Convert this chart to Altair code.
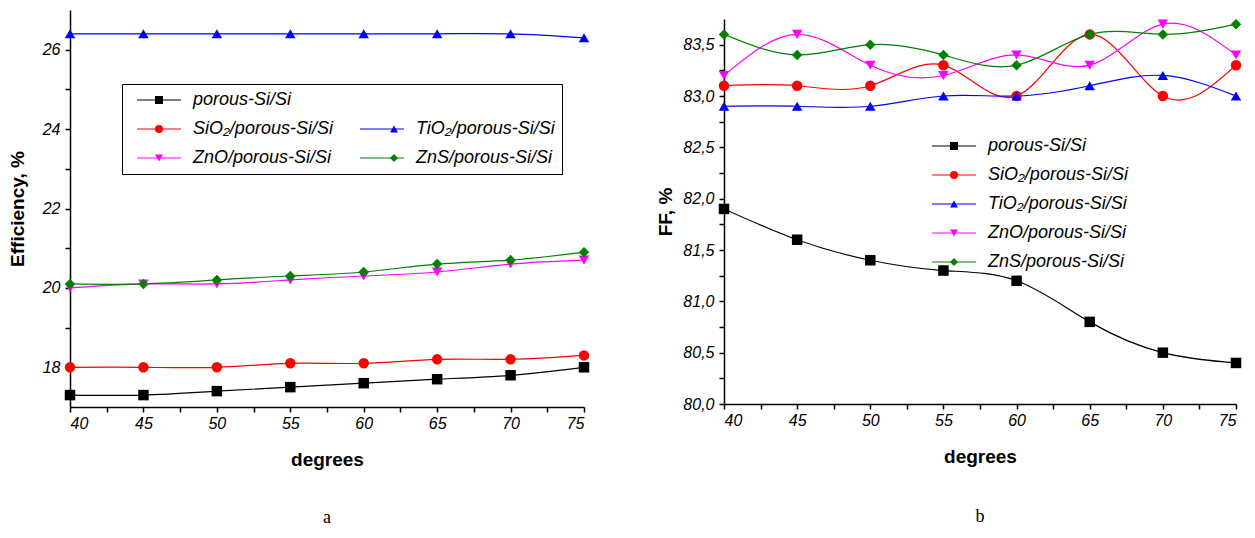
import altair as alt
import pandas as pd

# ---------------- data ----------------
degrees = [40, 45, 50, 55, 60, 65, 70, 75]
series = ["porous-Si/Si", "SiO₂/porous-Si/Si", "TiO₂/porous-Si/Si",
          "ZnO/porous-Si/Si", "ZnS/porous-Si/Si"]
colors = ["#000000", "#ff0000", "#0000ff", "#ff00ff", "#008000"]
shapes = ["square", "circle", "triangle-up", "triangle-down", "diamond"]

eff_porous = [17.3, 17.3, 17.4, 17.5, 17.6, 17.7, 17.8, 18.0]
eff_sio2 = [18.0, 18.0, 18.0, 18.1, 18.1, 18.2, 18.2, 18.3]
eff_tio2 = [26.4, 26.4, 26.4, 26.4, 26.4, 26.4, 26.4, 26.3]
eff_zno = [20.0, 20.1, 20.1, 20.2, 20.3, 20.4, 20.6, 20.7]
eff_zns = [20.1, 20.1, 20.2, 20.3, 20.4, 20.6, 20.7, 20.9]

ff_porous = [81.9, 81.6, 81.4, 81.3, 81.2, 80.8, 80.5, 80.4]
ff_sio2 = [83.1, 83.1, 83.1, 83.3, 83.0, 83.6, 83.0, 83.3]
ff_tio2 = [82.9, 82.9, 82.9, 83.0, 83.0, 83.1, 83.2, 83.0]
ff_zno = [83.2, 83.6, 83.3, 83.2, 83.4, 83.3, 83.7, 83.4]
ff_zns = [83.6, 83.4, 83.5, 83.4, 83.3, 83.6, 83.6, 83.7]

# major + minor tick values (minor ones get no label)
x_ticks = [40, 42.5, 45, 47.5, 50, 52.5, 55, 57.5, 60, 62.5, 65, 67.5, 70,
           72.5, 75]
eff_ticks = [18, 19, 20, 21, 22, 23, 24, 25, 26]
ff_ticks = [80.0, 80.25, 80.5, 80.75, 81.0, 81.25, 81.5, 81.75, 82.0, 82.25,
            82.5, 82.75, 83.0, 83.25, 83.5]

FONT = "Liberation Sans"
SERIF = "Liberation Serif"


def long_df(cols):
    rows = []
    for name, vals in zip(series, cols):
        for d, v in zip(degrees, vals):
            rows.append({"deg": d, "value": v, "series": name})
    return pd.DataFrame(rows)


eff_df = long_df([eff_porous, eff_sio2, eff_tio2, eff_zno, eff_zns])
ff_df = long_df([ff_porous, ff_sio2, ff_tio2, ff_zno, ff_zns])


def panel(df, y_dom, y_ticks, y_major_test, y_label_expr, y_title,
          title_pad, dom_order, col_range, shp_range, columns, pt_colpad,
          lx, ly, box, caption, cap_offset, width, height):
    xs = alt.Scale(domain=[40, 75], nice=False, zero=False)
    ys = alt.Scale(domain=y_dom, nice=False, zero=False)
    common_leg = dict(orient="none", legendX=lx, legendY=ly, title=None,
                      columns=columns, padding=7, rowPadding=11,
                      labelFont=FONT, labelFontSize=18,
                      labelFontStyle="italic", labelLimit=400, clipHeight=18)
    leg_line = alt.Legend(symbolType="stroke", symbolSize=1936,
                          symbolStrokeWidth=1.2, symbolOffset=7,
                          labelOffset=11, labelColor="black",
                          columnPadding=19,
                          strokeColor="black" if box else "transparent",
                          **common_leg)
    leg_pt = alt.Legend(symbolSize=64, symbolStrokeWidth=0,
                        symbolOffset=21, labelOffset=39,
                        labelExpr="''", columnPadding=pt_colpad,
                        **common_leg)
    x_test = "datum.value % 5 == 0"
    x_axis = alt.Axis(
        values=x_ticks, title="degrees", titleFont=FONT, titleFontSize=19,
        titleFontWeight="bold", titlePadding=19, labelFont=FONT,
        labelFontSize=16, labelFontStyle="italic", tickSize=5,
        labelPadding=3, labelOverlap=False,
        labelExpr=f"({x_test}) ? format(datum.value, 'd') : ''",
        orient="bottom", grid=False)
    y_axis = alt.Axis(
        values=y_ticks, title=y_title, titleFont=FONT, titleFontSize=19,
        titleFontWeight="bold", titlePadding=title_pad, labelFont=FONT,
        labelFontSize=16, labelFontStyle="italic", tickSize=5,
        labelPadding=5, labelOverlap=False,
        labelExpr=f"({y_major_test}) ? {y_label_expr} : ''",
        orient="left", grid=False)
    line = alt.Chart(df).mark_line(interpolate="natural", strokeWidth=1.2,
                                   clip=True).encode(
        x=alt.X("deg:Q", scale=xs, axis=x_axis),
        y=alt.Y("value:Q", scale=ys, axis=y_axis),
        color=alt.Color("series:N",
                        scale=alt.Scale(domain=dom_order, range=col_range),
                        legend=leg_line),
    )
    pts = alt.Chart(df).mark_point(filled=True, opacity=1, size=110).encode(
        x=alt.X("deg:Q", scale=xs, axis=x_axis),
        y=alt.Y("value:Q", scale=ys, axis=y_axis),
        color=alt.Color("series:N",
                        scale=alt.Scale(domain=dom_order, range=col_range),
                        legend=leg_pt),
        shape=alt.Shape("series:N",
                        scale=alt.Scale(domain=dom_order, range=shp_range),
                        legend=leg_pt),
    )
    return alt.layer(line, pts).resolve_scale(
        color="independent", shape="independent"
    ).resolve_legend(
        color="independent", shape="independent"
    ).properties(
        width=width, height=height,
        title=alt.TitleParams(caption, orient="bottom", font=SERIF,
                              fontSize=18, fontWeight="normal",
                              offset=cap_offset, frame="group",
                              anchor="middle", color="black"),
    )


# legend order chosen so that the 2-column legend fills like the original
left_order = [series[0], series[1], series[3], " ", series[2], series[4]]
left_colors = [colors[0], colors[1], colors[3], "transparent", colors[2], colors[4]]
left_shapes = [shapes[0], shapes[1], shapes[3], "circle", shapes[2], shapes[4]]

left = panel(eff_df, [17, 27], eff_ticks, "datum.value % 2 == 0",
             "format(datum.value, 'd')", "Efficiency, %", 15,
             left_order, left_colors, left_shapes, 2, 157, 52, 74, True,
             "a", 40, 514, 397)

right = panel(ff_df, [80, 83.75], ff_ticks, "(datum.value * 2) % 1 == 0",
              "replace(format(datum.value, '.1f'), '.', ',')", "FF, %", 7,
              series, colors, shapes, 1, 19, 193, 111, False, "b", 42,
              512, 385)

spacer_df = pd.DataFrame({"v": [0]})
spacer = alt.Chart(spacer_df).mark_point(opacity=0, size=0).encode(
    x=alt.value(0), y=alt.value(0)
).properties(width=1, height=1)

right_col = alt.vconcat(spacer, right, spacing=7)

chart = alt.hconcat(left, right_col, spacing=66).properties(
    padding={"left": 0, "top": 2, "right": 0, "bottom": 0},
    background="white",
).configure_view(stroke=None).configure_axis(
    grid=False, domainColor="black", tickColor="black", labelColor="black",
    titleColor="black", domainWidth=1.5, tickWidth=1.5
)

chart.save("out.html", embed_options={"renderer": "svg", "actions": False})
